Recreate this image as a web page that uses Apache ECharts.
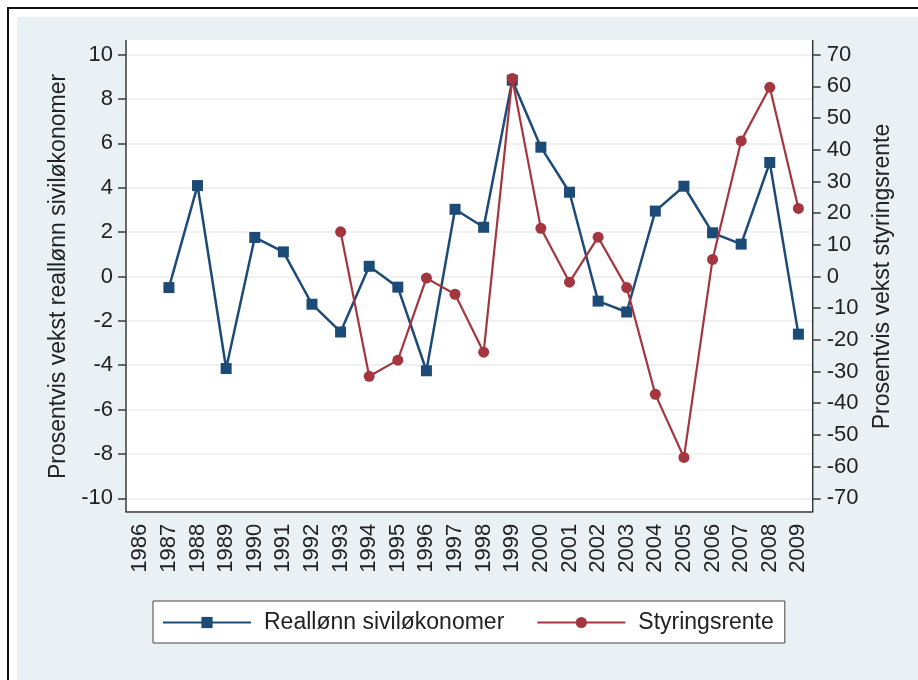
<!DOCTYPE html>
<html>
<head>
<meta charset="utf-8">
<script src="https://cdn.jsdelivr.net/npm/echarts@6/dist/echarts.min.js"></script>
<style>
  html, body { margin: 0; padding: 0; background: #fff; }
  #chart { width: 918px; height: 680px; }
</style>
</head>
<body>
<div id="chart"></div>
<script>
// -------------------------------------------------------------
// Data
// -------------------------------------------------------------
var years = ['1986', '1987', '1988', '1989', '1990', '1991', '1992', '1993',
             '1994', '1995', '1996', '1997', '1998', '1999', '2000', '2001',
             '2002', '2003', '2004', '2005', '2006', '2007', '2008', '2009'];

// Reallønn siviløkonomer (left axis, %)
var reallonn = [null, -0.5, 4.1, -4.15, 1.76, 1.11, -1.25, -2.5,
                0.46, -0.48, -4.25, 3.03, 2.22, 8.85, 5.83, 3.8,
                -1.11, -1.6, 2.95, 4.07, 1.97, 1.46, 5.14, -2.6];

// Styringsrente (right axis, %)
var styringsrente = [null, null, null, null, null, null, null, 14.1,
                     -31.5, -26.4, -0.5, -5.6, -23.9, 62.5, 15.2, -1.8,
                     12.4, -3.5, -37.2, -57.1, 5.4, 42.8, 59.7, 21.5];

var leftTicks = { min: -10, max: 10, step: 2 };
var rightTicks = { min: -70, max: 70, step: 10 };

var BLUE = '#1d4b77';
var RED = '#a3363f';
var FONT = '"Liberation Sans", Arial, sans-serif';

// plot frame (Stata style box is a bit larger than the tick range)
var plot = { left: 126, top: 40, right: 812.7, bottom: 512 };

var chart = echarts.init(document.getElementById('chart'));

var option = {
    backgroundColor: '#ffffff',
    animation: false,
    textStyle: { fontFamily: FONT, color: '#222' },
    graphic: [
        { type: 'rect', z: -30, shape: { x: 8, y: 8, width: 930, height: 690 },
          style: { fill: '#ffffff', stroke: '#111', lineWidth: 2 } },
        { type: 'rect', z: -29, shape: { x: 17, y: 17, width: 920, height: 680 },
          style: { fill: '#e9f1f4' } },
        { type: 'rect', z: -28,
          shape: { x: plot.left, y: plot.top, width: plot.right - plot.left, height: plot.bottom - plot.top },
          style: { fill: '#ffffff' } },
        { type: 'line', z: 5, shape: { x1: plot.left, y1: plot.top, x2: plot.left, y2: plot.bottom },
          style: { stroke: '#3a3a3a', lineWidth: 1.5 } },
        { type: 'line', z: 5, shape: { x1: plot.right, y1: plot.top, x2: plot.right, y2: plot.bottom },
          style: { stroke: '#3a3a3a', lineWidth: 1.5 } }
    ],
    grid: {
        left: plot.left,
        right: 918 - plot.right,
        top: 54.7,
        bottom: 680 - 498.3,
        containLabel: false
    },
    legend: {
        left: 153,
        top: 601,
        padding: [10, 11, 9, 9],
        itemWidth: 88,
        itemHeight: 14,
        itemGap: 32,
        backgroundColor: '#ffffff',
        borderColor: '#444',
        borderWidth: 1,
        textStyle: { fontFamily: FONT, fontSize: 23, color: '#222', padding: [0, 0, 0, 8] },
        data: ['Reallønn siviløkonomer', 'Styringsrente']
    },
    xAxis: {
        type: 'category',
        data: years,
        boundaryGap: true,
        offset: 13.5,
        axisLine: { onZero: false, lineStyle: { color: '#3a3a3a', width: 1.5 } },
        axisTick: { alignWithLabel: true, length: 8, lineStyle: { color: '#3a3a3a', width: 1.5 } },
        axisLabel: { rotate: 90, margin: 12, fontSize: 22, color: '#222', fontFamily: FONT, interval: 0 },
        splitLine: { show: false }
    },
    yAxis: [
        {
            type: 'value',
            position: 'left',
            min: leftTicks.min,
            max: leftTicks.max,
            interval: leftTicks.step,
            name: 'Prosentvis vekst reallønn siviløkonomer',
            nameLocation: 'middle',
            nameRotate: 90,
            nameGap: 56,
            nameTextStyle: { fontSize: 23, color: '#222', fontFamily: FONT },
            axisLine: { show: false },
            axisTick: { show: true, length: 8, lineStyle: { color: '#3a3a3a', width: 1.5 } },
            axisLabel: { margin: 13, fontSize: 22, color: '#222', fontFamily: FONT },
            splitLine: { show: true, lineStyle: { color: '#ececec', width: 1.5 } }
        },
        {
            type: 'value',
            position: 'right',
            min: rightTicks.min,
            max: rightTicks.max,
            interval: rightTicks.step,
            name: 'Prosentvis vekst styringsrente',
            nameLocation: 'middle',
            nameRotate: 90,
            nameGap: 58,
            nameTextStyle: { fontSize: 23, color: '#222', fontFamily: FONT },
            axisLine: { show: false },
            axisTick: { show: true, length: 8, lineStyle: { color: '#3a3a3a', width: 1.5 } },
            axisLabel: { margin: 14, fontSize: 22, color: '#222', fontFamily: FONT },
            splitLine: { show: false }
        }
    ],
    series: [
        {
            name: 'Reallønn siviløkonomer',
            type: 'line',
            yAxisIndex: 0,
            data: reallonn,
            symbol: 'rect',
            symbolSize: 11,
            lineStyle: { color: BLUE, width: 2.5 },
            itemStyle: { color: BLUE },
            z: 3
        },
        {
            name: 'Styringsrente',
            type: 'line',
            yAxisIndex: 1,
            data: styringsrente,
            symbol: 'circle',
            symbolSize: 11,
            lineStyle: { color: RED, width: 2.2 },
            itemStyle: { color: RED },
            z: 4
        }
    ]
};

chart.setOption(option);
</script>
</body>
</html>
